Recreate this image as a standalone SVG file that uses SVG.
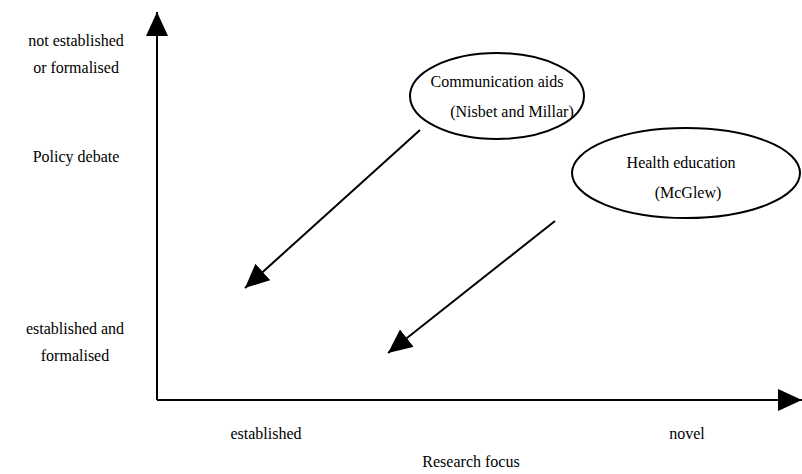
<svg xmlns="http://www.w3.org/2000/svg" width="802" height="474" viewBox="0 0 802 474">
<style>
text{font-family:"Liberation Serif","Times New Roman",serif;font-size:16px;fill:#000;text-anchor:middle}
.ln{stroke:#000;stroke-width:2;fill:none}
.el{stroke:#000;stroke-width:2;fill:#fff}
</style>
<defs>
<marker id="ah" markerUnits="userSpaceOnUse" markerWidth="26" markerHeight="22" refX="24" refY="11" orient="auto">
<path d="M0,0 L24,11 L0,22 z" fill="#000"/>
</marker>
</defs>
<rect width="802" height="474" fill="#fff"/>
<g id="connectors">
<line class="ln" x1="157" y1="400" x2="157" y2="12" marker-end="url(#ah)"/>
<line class="ln" x1="157" y1="400" x2="802" y2="400" marker-end="url(#ah)"/>
<line class="ln" x1="420" y1="130" x2="245" y2="288" marker-end="url(#ah)"/>
<line class="ln" x1="555" y1="221" x2="388" y2="353" marker-end="url(#ah)"/>
</g>
<g id="node-communication">
<ellipse class="el" cx="497" cy="96" rx="87" ry="43"/>
<text x="497" y="87">Communication aids</text>
<text x="512" y="117">(Nisbet and Millar)</text>
</g>
<g id="node-health">
<ellipse class="el" cx="686" cy="173" rx="114" ry="45"/>
<text x="681" y="168">Health education</text>
<text x="688" y="198">(McGlew)</text>
</g>
<g id="labels">
<text x="76" y="46">not established</text>
<text x="76" y="73">or formalised</text>
<text x="76" y="162">Policy debate</text>
<text x="75" y="334">established and</text>
<text x="75" y="361">formalised</text>
<text x="266" y="439">established</text>
<text x="687" y="439">novel</text>
<text x="471" y="467">Research focus</text>
</g>
</svg>
